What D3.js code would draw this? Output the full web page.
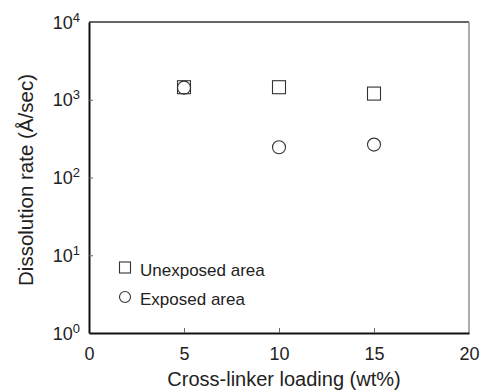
<!DOCTYPE html>
<html>
<head>
<meta charset="utf-8">
<script src="https://cdn.jsdelivr.net/npm/d3@7"></script>
<style>
	body { margin: 0; background: #fff; }
	text { font-family: "Liberation Sans", Arial, sans-serif; fill: #222; }
</style>
</head>
<body>
<svg id="viz"></svg>
<script>
// Data
const loadings = [5, 10, 15];
const unexposed = [1450, 1450, 1200];
const exposed = [1430, 245, 265];
const xTicks = [0, 5, 10, 15, 20];
const yExponents = [0, 1, 2, 3, 4];
const legendLabels = ["Unexposed area", "Exposed area"];

let translate = function(x, y) {
	return 'translate(' + x + ',' + y + ')';
}

let drawEverything = function() {
	const width = 483;
	const height = 392;

	const margin = {
		top:	22,
		right:	14,
		bottom: 59,
		left:	89
	};

	const plotWidth = width - margin.left - margin.right;
	const plotHeight = height - margin.top - margin.bottom;

	const svg = d3.select("svg#viz")
		.attr("width", width)
		.attr("height", height);

	const plot = svg.append("g").attr("id", "plot")
		.attr("transform", translate(margin.left, margin.top));

	const x = d3.scaleLinear()
		.domain([0, 20])
		.range([0, plotWidth]);

	const y = d3.scaleLog()
		.domain([1, 1e4])
		.range([plotHeight, 0]);

	drawFrame();
	drawAxes();
	drawPoints();
	drawLegend();
	drawLabels();

	function drawFrame() {
		// top and right sides of the box are lighter than the axes
		plot.append("line")
			.attr("x1", 0).attr("x2", plotWidth)
			.attr("y1", 0).attr("y2", 0)
			.attr("stroke", "#333").attr("stroke-width", 1.3);
		plot.append("line")
			.attr("x1", plotWidth).attr("x2", plotWidth)
			.attr("y1", 0).attr("y2", plotHeight)
			.attr("stroke", "#777").attr("stroke-width", 1.2);
	}

	function drawAxes() {
		let xAxis = d3.axisBottom(x)
			.tickValues(xTicks)
			.tickSizeInner(-5)
			.tickSizeOuter(0)
			.tickPadding(14);

		let gx = plot.append("g")
			.attr("id", "x-axis")
			.attr("transform", translate(0, plotHeight))
			.call(xAxis);
		gx.select(".domain").attr("stroke", "#111").attr("stroke-width", 2);
		gx.selectAll(".tick line").attr("stroke", "#666");
		gx.selectAll(".tick").filter(d => d == 0 || d == 20).select("line").remove();
		gx.selectAll(".tick text")
			.attr("font-size", 18)
			.attr("fill", "#222")
			.attr("dy", "0.71em");

		let yAxis = d3.axisLeft(y)
			.tickValues(yExponents.map(e => Math.pow(10, e)))
			.tickSizeInner(-4)
			.tickSizeOuter(0)
			.tickFormat("");

		let gy = plot.append("g")
			.attr("id", "y-axis")
			.call(yAxis);
		gy.select(".domain").attr("stroke", "#111").attr("stroke-width", 2);
		gy.selectAll(".tick line").attr("stroke", "#666");
		gy.selectAll(".tick").filter(d => d == 1 || d == 1e4).select("line").remove();

		// powers of ten, drawn with a superscript
		let labels = gy.selectAll(".tick").append("text")
			.attr("x", -9)
			.attr("y", 6)
			.attr("text-anchor", "end")
			.attr("font-size", 18)
			.attr("fill", "#222");
		labels.append("tspan").text("10");
		labels.append("tspan")
			.attr("font-size", 13)
			.attr("dy", -7)
			.text((d, i) => yExponents[i]);
	}

	function drawPoints() {
		let points = plot.append("g").attr("id", "points");

		points.selectAll("rect")
			.data(loadings)
			.join("rect")
			.attr("x", (d, i) => x(d) - 6.5)
			.attr("y", (d, i) => y(unexposed[i]) - 6.5)
			.attr("width", 13)
			.attr("height", 13)
			.attr("fill", "none")
			.attr("stroke", "#333")
			.attr("stroke-width", 1.1);

		points.selectAll("circle")
			.data(loadings)
			.join("circle")
			.attr("cx", d => x(d))
			.attr("cy", (d, i) => y(exposed[i]))
			.attr("r", 6.5)
			.attr("fill", "none")
			.attr("stroke", "#333")
			.attr("stroke-width", 1.1);
	}

	function drawLegend() {
		let legend = svg.append("g").attr("id", "legend")
			.attr("transform", translate(125, 268));

		legend.append("rect")
			.attr("x", -5.5).attr("y", -6)
			.attr("width", 11).attr("height", 11)
			.attr("fill", "none")
			.attr("stroke", "#333")
			.attr("stroke-width", 1.1);

		legend.append("circle")
			.attr("cx", 0).attr("cy", 29)
			.attr("r", 5.5)
			.attr("fill", "none")
			.attr("stroke", "#333")
			.attr("stroke-width", 1.1);

		legend.selectAll("text.legend-labels")
			.data(legendLabels)
			.join("text")
			.attr("class", "legend-labels")
			.attr("x", 15)
			.attr("y", (d, i) => 8 + i * 29)
			.attr("font-size", 17)
			.text(d => d);
	}

	function drawLabels() {
		svg.append("text")
			.attr("x", 284)
			.attr("y", 386)
			.attr("text-anchor", "middle")
			.attr("font-size", 20)
			.text("Cross-linker loading (wt%)");

		svg.append("text")
			.attr("transform", translate(33, 180) + " rotate(-90)")
			.attr("text-anchor", "middle")
			.attr("font-size", 20.5)
			.text("Dissolution rate (Å/sec)");
	}
};

drawEverything();
</script>
</body>
</html>
